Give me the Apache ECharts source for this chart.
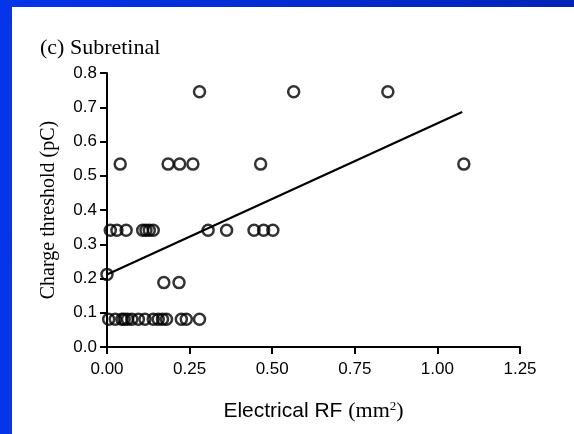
<!DOCTYPE html>
<html>
<head>
<meta charset="utf-8">
<script src="https://cdn.jsdelivr.net/npm/echarts@6/dist/echarts.min.js"></script>
<style>
  html, body { margin: 0; padding: 0; width: 574px; height: 434px; overflow: hidden; }
  body { background: linear-gradient(90deg, #0535ea, #0223b8); position: relative; }
  #chart { position: absolute; left: 12px; top: 7px; width: 562px; height: 427px; background: #fff; }
</style>
</head>
<body>
<div id="chart"></div>
<script>
// Subretinal: electrical RF (mm2) vs charge threshold (pC)
var rfX = [
  0.28, 0.565, 0.85,
  0.04, 0.185, 0.22, 0.26, 0.465, 1.08,
  0.01, 0.03, 0.058, 0.108, 0.118, 0.128, 0.14, 0.306, 0.362, 0.445, 0.474, 0.502,
  0.0,
  0.172, 0.218,
  0.005, 0.025, 0.045, 0.052, 0.062, 0.075, 0.095, 0.115, 0.14, 0.155, 0.168, 0.18, 0.225, 0.24, 0.28
];
var chargeY = [
  0.745, 0.745, 0.745,
  0.534, 0.534, 0.534, 0.534, 0.534, 0.534,
  0.341, 0.341, 0.341, 0.341, 0.341, 0.341, 0.341, 0.341, 0.341, 0.341, 0.341, 0.341,
  0.212,
  0.188, 0.188,
  0.081, 0.081, 0.081, 0.081, 0.081, 0.081, 0.081, 0.081, 0.081, 0.081, 0.081, 0.081, 0.081, 0.081, 0.081
];
// fitted line end points
var fitX = [0.0, 1.075];
var fitY = [0.212, 0.686];

var xTicks = [0, 0.25, 0.5, 0.75, 1.0, 1.25];
var yTicks = [0, 0.1, 0.2, 0.3, 0.4, 0.5, 0.6, 0.7, 0.8];

var points = rfX.map(function (x, i) { return [x, chargeY[i]]; });
var fit = fitX.map(function (x, i) { return [x, fitY[i]]; });

var chart = echarts.init(document.getElementById('chart'));
var axisCommon = {
  axisLine: { show: true, onZero: false, lineStyle: { color: '#000', width: 2 } },
  axisTick: { show: true, length: 7, lineStyle: { color: '#000', width: 2 } },
  splitLine: { show: false },
  axisLabel: { color: '#000', fontFamily: 'Liberation Sans', fontSize: 17 }
};
chart.setOption({
  animation: false,
  title: {
    text: '(c) Subretinal',
    left: 23, top: 25,
    textStyle: { fontFamily: 'Liberation Serif', fontSize: 22, fontWeight: 'normal', color: '#000' }
  },
  grid: { left: 95, right: 54, top: 66, bottom: 87 },
  xAxis: Object.assign({}, axisCommon, {
    type: 'value', min: xTicks[0], max: xTicks[xTicks.length - 1], interval: 0.25,
    axisLabel: Object.assign({}, axisCommon.axisLabel, { margin: 14, formatter: function (v) { return v.toFixed(2); } }),
    name: '{a|Electrical RF }{b|(mm}{s|2}{b|)}',
    nameLocation: 'middle', nameGap: 53,
    nameTextStyle: {
      rich: {
        a: { fontFamily: 'Liberation Sans', fontSize: 21, color: '#000' },
        b: { fontFamily: 'Liberation Serif', fontSize: 22, color: '#000' },
        s: { fontFamily: 'Liberation Serif', fontSize: 13, color: '#000', verticalAlign: 'top', padding: [0, 0, 10, 0] }
      }
    }
  }),
  yAxis: Object.assign({}, axisCommon, {
    type: 'value', min: yTicks[0], max: yTicks[yTicks.length - 1], interval: 0.1,
    axisLabel: Object.assign({}, axisCommon.axisLabel, { margin: 10, formatter: function (v) { return v.toFixed(1); } }),
    name: 'Charge threshold (pC)',
    nameLocation: 'middle', nameGap: 48,
    nameTextStyle: { fontFamily: 'Liberation Serif', fontSize: 20, color: '#000' }
  }),
  series: [
    {
      type: 'scatter',
      data: points,
      symbol: 'circle',
      symbolSize: 11,
      itemStyle: { color: 'rgba(0,0,0,0)', borderColor: '#000', borderWidth: 2.5 }
    },
    {
      type: 'line',
      data: fit,
      symbol: 'none',
      lineStyle: { color: '#000', width: 2.2 }
    }
  ]
});
</script>
</body>
</html>
